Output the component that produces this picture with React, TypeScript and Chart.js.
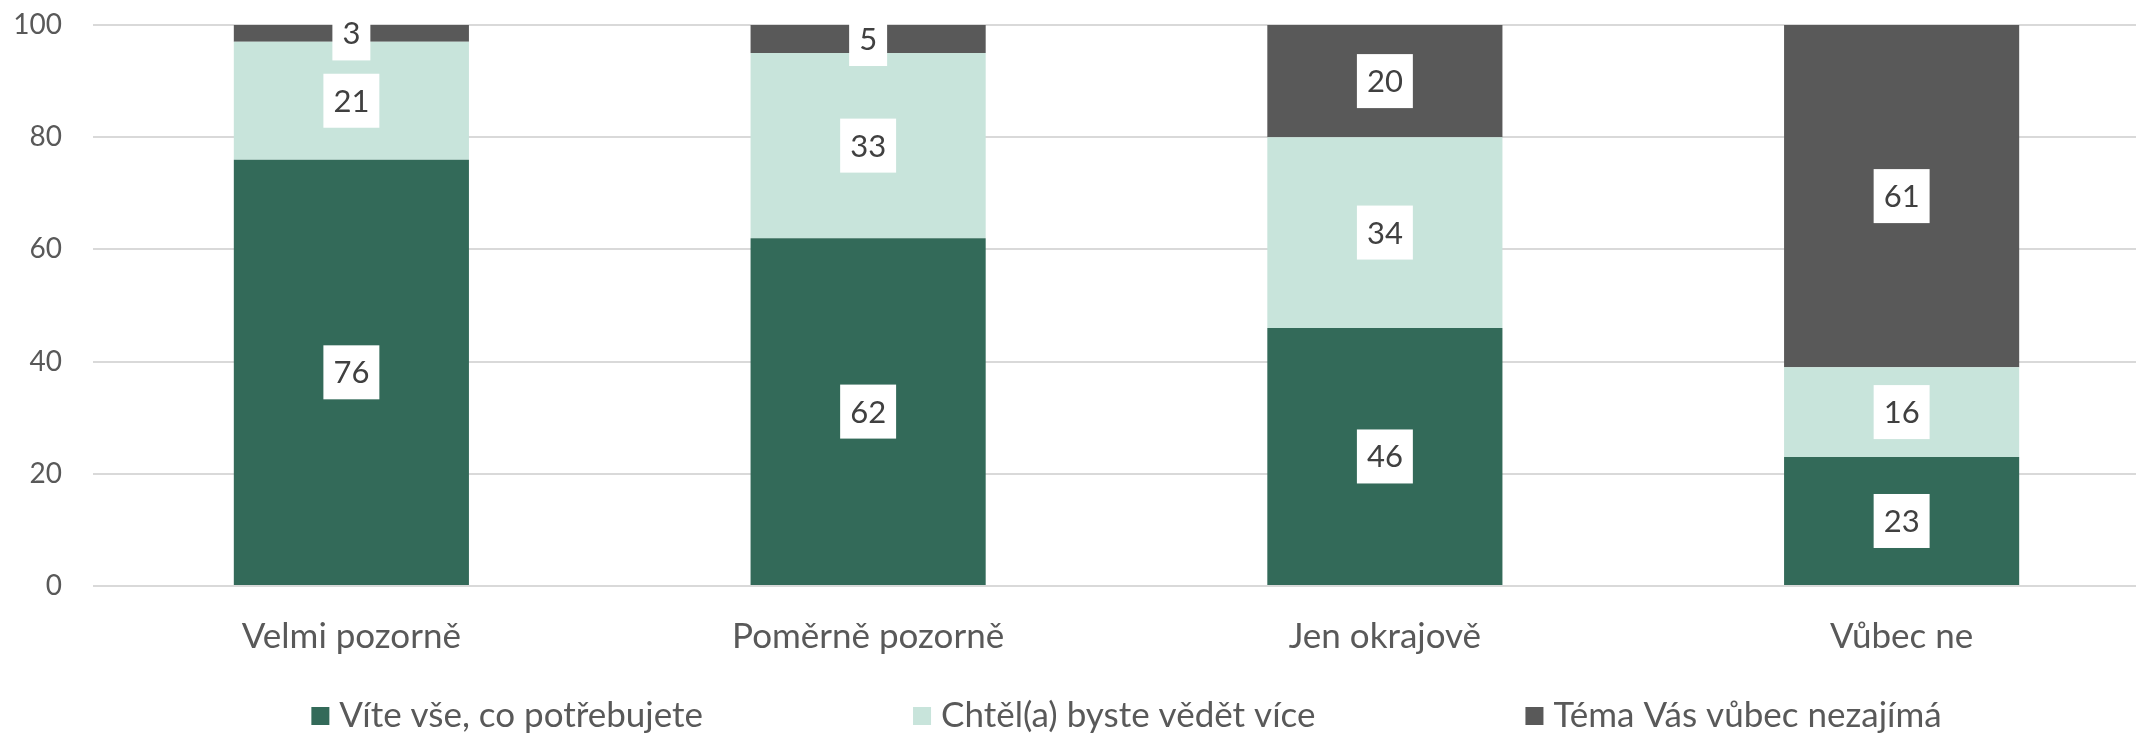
import React, { useEffect, useRef } from "react";
import { Chart, registerables } from "chart.js";

Chart.register(...registerables);

const categories = ["Velmi pozorně", "Poměrně pozorně", "Jen okrajově", "Vůbec ne"];
const seriesNames = ["Víte vše, co potřebujete", "Chtěl(a) byste vědět více", "Téma Vás vůbec nezajímá"];
const viteVse = [76, 62, 46, 23];
const chtelVice = [21, 33, 34, 16];
const temaNezajima = [3, 5, 20, 61];
const yTicks = [0, 20, 40, 60, 80, 100];

const colors = ["#336A59", "#C8E4DB", "#595959"];
const FONT = "Lato";

const labelPlugin = {
  id: "boxLabels",
  afterDatasetsDraw(chart: any) {
    const ctx = chart.ctx;
    ctx.save();
    ctx.font = `31px ${FONT}`;
    ctx.textAlign = "center";
    ctx.textBaseline = "middle";
    chart.data.datasets.forEach((ds: any, di: number) => {
      const meta = chart.getDatasetMeta(di);
      meta.data.forEach((bar: any, i: number) => {
        const { x, y, base } = bar.getProps(["x", "y", "base"], true);
        const cy = (y + base) / 2;
        const txt = String(ds.data[i]);
        const w = ctx.measureText(txt).width;
        ctx.fillStyle = "#ffffff";
        ctx.fillRect(x - w / 2 - 10, cy - 27, w + 20, 54);
        ctx.fillStyle = "#404040";
        ctx.fillText(txt, x, cy + 1);
      });
    });
    ctx.restore();
  },
};

const legendPlugin = {
  id: "customLegend",
  afterDraw(chart: any) {
    const ctx = chart.ctx;
    const area = chart.chartArea;
    ctx.save();
    ctx.font = `35px ${FONT}`;
    ctx.textBaseline = "middle";
    ctx.textAlign = "left";
    const box = 18;
    const gapBoxText = 10;
    const gapItems = 210;
    const widths = chart.data.datasets.map((ds: any) => box + gapBoxText + ctx.measureText(ds.label).width);
    const total = widths.reduce((a: number, b: number) => a + b, 0) + gapItems * (widths.length - 1);
    let x = (area.left + area.right) / 2 - total / 2;
    const cy = 716;
    chart.data.datasets.forEach((ds: any, i: number) => {
      ctx.fillStyle = ds.backgroundColor;
      ctx.fillRect(x, cy - box / 2, box, box);
      ctx.fillStyle = "#595959";
      ctx.fillText(ds.label, x + box + gapBoxText, cy);
      x += widths[i] + gapItems;
    });
    ctx.restore();
  },
};

export default function App() {
  const ref = useRef<HTMLCanvasElement | null>(null);
  useEffect(() => {
    if (!ref.current) return;
    const chart = new Chart(ref.current, {
      type: "bar",
      data: {
        labels: categories,
        datasets: [
          { label: seriesNames[0], data: viteVse, backgroundColor: colors[0] },
          { label: seriesNames[1], data: chtelVice, backgroundColor: colors[1] },
          { label: seriesNames[2], data: temaNezajima, backgroundColor: colors[2] },
        ],
      },
      options: {
        responsive: false,
        animation: false,
        layout: { autoPadding: false, padding: { top: 25, left: 0, right: 0, bottom: 0 } },
        datasets: { bar: { categoryPercentage: 0.455, barPercentage: 1 } },
        plugins: { legend: { display: false }, tooltip: { enabled: false } },
        scales: {
          x: {
            stacked: true,
            grid: { display: false, drawTicks: false },
            border: { display: false },
            ticks: { color: "#595959", font: { family: FONT, size: 35 }, padding: 30, maxRotation: 0 },
            afterFit: (s: any) => { s.height = 148; s.paddingLeft = 0; s.paddingRight = 0; },
          },
          y: {
            stacked: true,
            min: 0,
            max: 100,
            afterBuildTicks: (s: any) => { s.ticks = yTicks.map((v) => ({ value: v })); },
            grid: { color: "#D9D9D9", lineWidth: 2, drawTicks: false },
            border: { display: false },
            ticks: { color: "#595959", font: { family: FONT, size: 28 }, padding: 31 },
            afterFit: (s: any) => { s.width = 93; s.paddingTop = 0; s.paddingBottom = 0; },
          },
        },
      },
      plugins: [labelPlugin, legendPlugin],
    });
    return () => chart.destroy();
  }, []);
  return (
    <div style={{ position: "fixed", left: 0, top: 0, width: 2136, height: 734, overflow: "hidden", background: "#fff" }}>
      <canvas ref={ref} width={2160} height={734} style={{ display: "block" }} />
    </div>
  );
}
